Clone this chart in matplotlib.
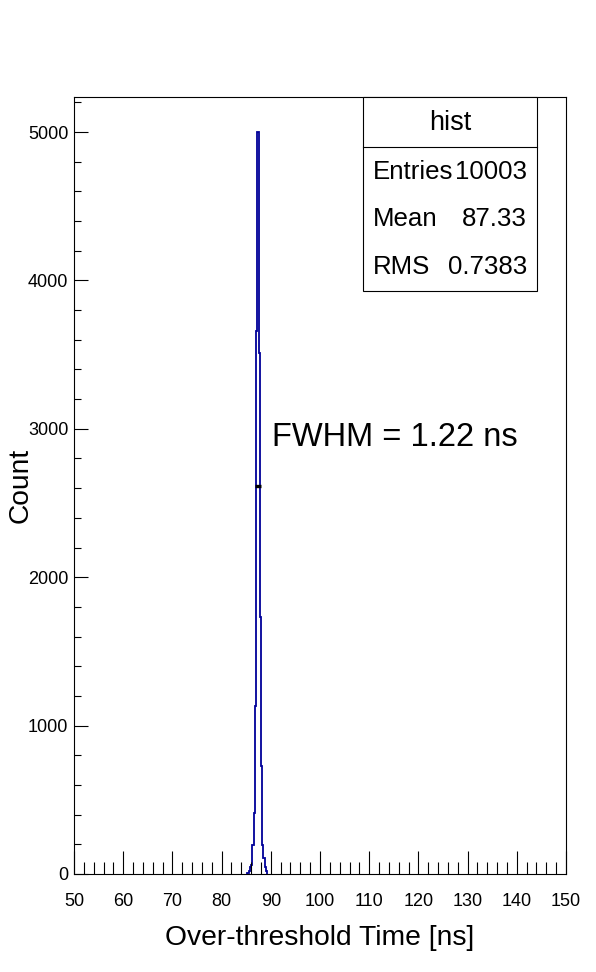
import numpy as np
import matplotlib
matplotlib.use("Agg")
import matplotlib.pyplot as plt
from matplotlib.ticker import MultipleLocator
from matplotlib.patches import Rectangle
from matplotlib.lines import Line2D

plt.rcParams['font.family'] = ['Liberation Sans', 'DejaVu Sans']

# histogram bins (ns) and counts
bin_edges = [85.25, 85.5, 85.75, 86.0, 86.25, 86.5, 86.75, 87.0, 87.25,
             87.5, 87.75, 88.0, 88.25, 88.5, 88.75, 89.0, 89.25]
counts = [10, 20, 50, 60, 195, 411, 1130, 3660, 5000,
          3510, 1730, 730, 195, 108, 50, 20]

# FWHM marker
fwhm_lo = 86.7
fwhm_hi = 87.92
half_max = 2615

stats_names = ["Entries", "Mean", "RMS"]
stats_values = ["10003", "87.33", "0.7383"]

W, H = 596, 972
fig = plt.figure(figsize=(W / 100, H / 100), dpi=100)
ax = fig.add_axes([74 / W, 1 - 874 / H, 492 / W, 777 / H])

ax.stairs(counts, bin_edges, color='#000099', linewidth=1.3)
ax.plot([fwhm_lo, fwhm_hi], [half_max, half_max], color='black', linewidth=2.4,
        solid_capstyle='butt', zorder=5)

ax.set_xlim(50, 150)
ax.set_ylim(0, 5236)

ax.xaxis.set_major_locator(MultipleLocator(10))
ax.xaxis.set_minor_locator(MultipleLocator(2))
ax.yaxis.set_major_locator(MultipleLocator(1000))
ax.yaxis.set_minor_locator(MultipleLocator(200))

ax.tick_params(axis='x', which='major', direction='in', length=16.6, width=0.8,
               labelsize=13, pad=14, top=False)
ax.tick_params(axis='x', which='minor', direction='in', length=8.3, width=0.8,
               top=False)
ax.tick_params(axis='y', which='major', direction='in', length=10, width=0.8,
               labelsize=13, pad=4, right=False)
ax.tick_params(axis='y', which='minor', direction='in', length=5, width=0.8,
               right=False)
for s in ax.spines.values():
    s.set_linewidth(0.8)

ax.set_xlabel("Over-threshold Time [ns]", fontsize=20.3, labelpad=10.5)
ax.set_ylabel("Count", fontsize=20.3)
ax.yaxis.set_label_coords(-0.083, 0.5)

ax.text(272, H - 437, "FWHM = 1.22 ns", transform=None, fontsize=23.5,
        va='center', ha='left')

# stats box
x0, x1 = 363 / W, 537 / W
yt, yb = 1 - 97 / H, 1 - 291 / H
fig.patches.append(Rectangle((x0, yb), x1 - x0, yt - yb, transform=fig.transFigure,
                             fill=True, facecolor='white', edgecolor='black',
                             linewidth=0.8, zorder=5))
fig.lines.append(Line2D([x0, x1], [1 - 147 / H] * 2, transform=fig.transFigure,
                        color='black', linewidth=0.8, zorder=6))
fig.text(450 / W, 1 - 123 / H, "hist", fontsize=19.5, ha='center', va='center', zorder=7)
row_y = [172, 219, 267]
for name, val, yy in zip(stats_names, stats_values, row_y):
    fig.text(373 / W, 1 - yy / H, name, fontsize=18.6, ha='left', va='center', zorder=7)
    fig.text(527 / W, 1 - yy / H, val, fontsize=18.6, ha='right', va='center', zorder=7)

fig.savefig("out.png", dpi=100)
